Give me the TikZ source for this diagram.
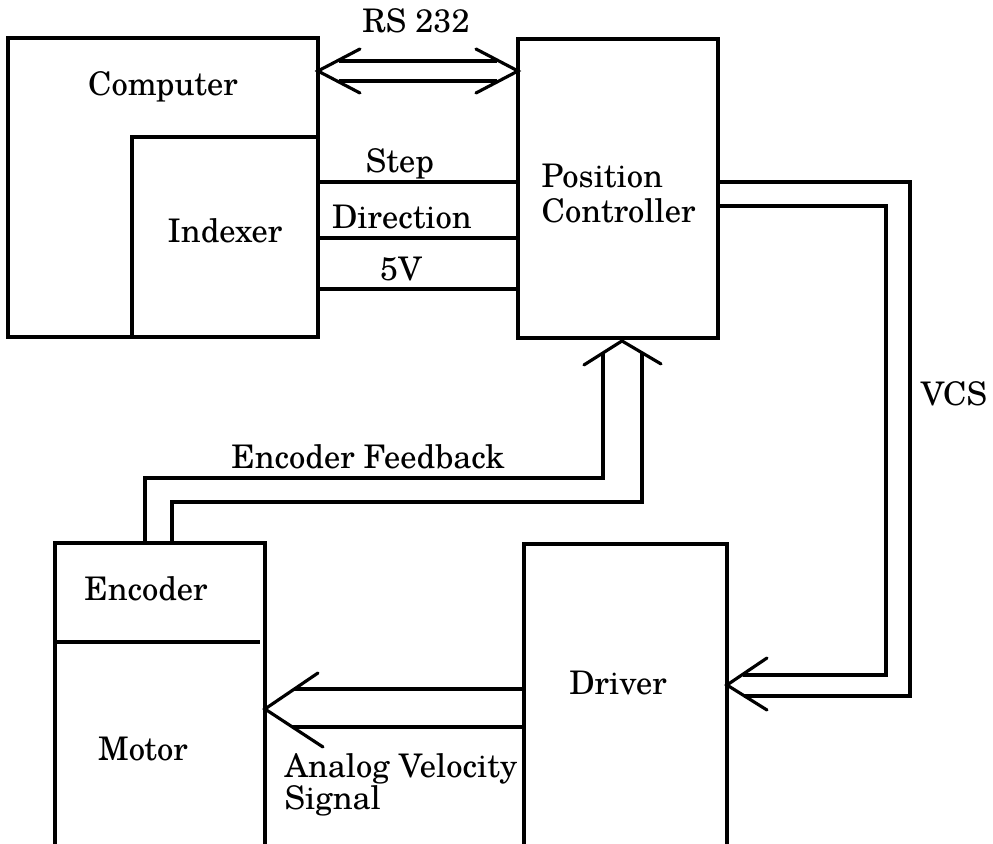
\documentclass[tikz,border=0pt]{standalone}
\usepackage{fontspec}
\setmainfont{TeX Gyre Schola}
\usetikzlibrary{calc}

\begin{document}
\begin{tikzpicture}[x={(0.02cm,0cm)},y={(0cm,-0.02cm)},line width=1.8pt,
  box/.style={draw,rectangle,anchor=north west,inner sep=0pt,outer sep=0pt},
  lbl/.style={inner sep=0pt,font=\fontsize{18.5pt}{20pt}\selectfont},
  head/.style={line cap=round}]
  \useasboundingbox (0,0) rectangle (993,844);
  \clip (0,0) rectangle (993,844);
  % blocks
  \node[box,minimum width=6.2cm,minimum height=5.98cm] (comp) at (8,38) {};
  \node[box,minimum width=3.72cm,minimum height=4cm] (idx) at (132,137) {};
  \node[box,minimum width=4cm,minimum height=5.98cm] (pc) at (518,39) {};
  \node[box,minimum width=4.2cm,minimum height=8cm] (mot) at (55,543) {};
  \node[box,minimum width=4.06cm,minimum height=8cm] (drv) at (524,544) {};
  \draw ($(mot.north west)+(0,99)$) -- ++(205,0);
  % labels
  \node[lbl,anchor=base] (rsl) at (416,33) {RS 232};
  \node[lbl,anchor=base] (compl) at (163,96) {Computer};
  \node[lbl,anchor=base] (idxl) at (225,243) {Indexer};
  \node[lbl,anchor=base] (stepl) at (400,173) {Step};
  \node[lbl,anchor=base] (dirl) at (402,229) {Direction};
  \node[lbl,anchor=base] (fivel) at (401,280) {5V};
  \node[lbl,anchor=north west,align=left] (pcl) at (540,162) {Position\\Controller};
  \node[lbl,anchor=base] (vcsl) at (954,405) {VCS};
  \node[lbl,anchor=base] (fbl) at (368,468) {Encoder Feedback};
  \node[lbl,anchor=base] (encl) at (146,600) {Encoder};
  \node[lbl,anchor=base] (motl) at (143,760) {Motor};
  \node[lbl,anchor=base] (drvl) at (618,694) {Driver};
  \node[lbl,anchor=north west,align=left,font=\fontsize{18.5pt}{18.2pt}\selectfont] (avl) at (283,752) {Analog Velocity\\Signal};
  % RS 232 link
  \coordinate (rsL) at ($(comp.north east)+(0,33)$);
  \coordinate (rsR) at (rsL -| pc.west);
  \draw ($(rsL)+(21,-10)$) -- ($(rsR)+(-21,-10)$);
  \draw ($(rsL)+(21,10)$) -- ($(rsR)+(-21,10)$);
  \draw[head] (rsL) ++(42,-22) -- (rsL) -- ++(42,22);
  \draw[head] (rsR) ++(-42,-22) -- (rsR) -- ++(-42,22);
  % indexer signals
  \foreach \dy/\nm in {45/stp,101/dir,152/fiv} {
    \coordinate (\nm) at ($(idx.north east)+(0,\dy)$);
    \draw (\nm) -- (\nm -| pc.west);
  }
  % VCS loop
  \coordinate (vcsT) at ($(drv.north east)+(0,141)$);
  \draw ($(pc.north east)+(0,143)$) -- ++(192,0) |- ($(vcsT)+(17,11)$);
  \draw ($(pc.north east)+(0,167)$) -- ++(168,0) |- ($(vcsT)+(16,-10)$);
  \draw[head] (vcsT) ++(40,-27) -- (vcsT) -- ++(40,25);
  % encoder feedback
  \coordinate (fbT) at ($(pc.south)+(4,3)$);
  \draw ($(fbT)+(-19,12)$) |- ($(mot.north west)+(90,-65)$) -- ++(0,65);
  \draw ($(fbT)+(20,12)$) |- ($(mot.north west)+(117,-41)$) -- ++(0,41);
  \draw[head] (fbT) ++(-38,24) -- (fbT) -- ++(39,23);
  % analog velocity signal
  \coordinate (avT) at ($(mot.north east)+(0,166)$);
  \draw ($(avT -| drv.west)+(0,-20)$) -- ($(avT)+(29,-20)$);
  \draw ($(avT -| drv.west)+(0,18)$) -- ($(avT)+(27,18)$);
  \draw[head] (avT) ++(53,-36) -- (avT) -- ++(58,38);
\end{tikzpicture}
\end{document}
